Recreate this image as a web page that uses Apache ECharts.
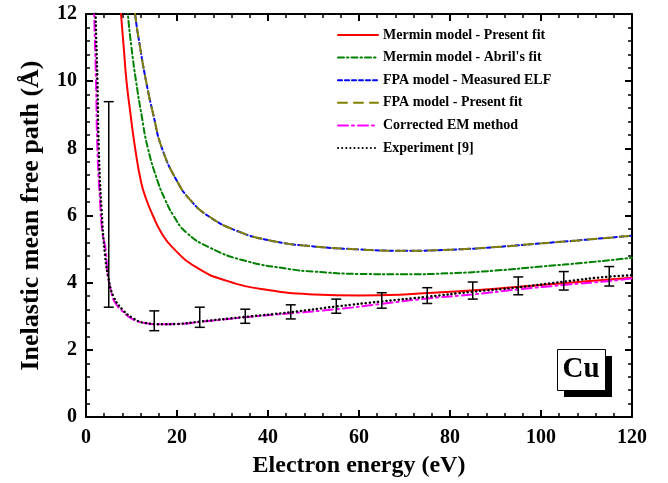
<!DOCTYPE html>
<html>
<head>
<meta charset="utf-8">
<script src="https://cdn.jsdelivr.net/npm/echarts@6/dist/echarts.min.js"></script>
<style>
  html, body { margin: 0; padding: 0; background: #fff; }
  #chart { width: 668px; height: 483px; }
</style>
</head>
<body>
<div id="chart"></div>
<script>
// curves: [energy (eV), IMFP (Å)]
const merminPresent = [[7.2, 13], [7.7, 12], [8.3, 11], [8.9, 10], [9.8, 9], [10.8, 8], [12.1, 7], [13.2, 6.5],
    [14.7, 6], [16.5, 5.5], [19, 5.05], [24.2, 4.46], [30.8, 4.06], [40, 3.78], [50, 3.65], [60, 3.62],
    [70, 3.65], [80, 3.73], [90, 3.82], [100, 3.93], [110, 4.04], [120, 4.15]];
const merminAbril = [[8.7, 13], [9.2, 12], [10, 11], [11, 10], [12.2, 9], [13.6, 8], [15.8, 7], [17.3, 6.5],
    [19.2, 6], [22, 5.5], [27.1, 5.05], [35, 4.65], [45, 4.4], [50, 4.33], [60, 4.26], [70, 4.25],
    [80, 4.28], [90, 4.36], [100, 4.48], [110, 4.6], [120, 4.74]];
const fpaMeasured = [[10.2, 13], [10.8, 12], [11.9, 11], [13.2, 10], [14.8, 9], [16.7, 8], [20.1, 7], [23, 6.45],
    [26.7, 6], [33, 5.55], [40.7, 5.25], [50, 5.08], [60, 4.99], [70, 4.95], [80, 4.98], [90, 5.06],
    [100, 5.17], [110, 5.28], [120, 5.4]];
const fpaPresent = [[10.2, 13], [10.8, 12], [11.9, 11], [13.2, 10], [14.8, 9], [16.7, 8], [20.1, 7], [23, 6.45],
    [26.7, 6], [33, 5.55], [40.7, 5.25], [50, 5.08], [60, 4.99], [70, 4.95], [80, 4.98], [90, 5.06],
    [100, 5.17], [110, 5.28], [120, 5.4]];
const correctedEM = [[1.7, 13], [1.8, 12], [2.2, 10], [2.5, 8], [3.1, 6.4], [3.6, 5.5], [4.3, 5], [4.8, 4.2],
    [5.5, 3.76], [6.2, 3.45], [7.8, 3.18], [10.4, 2.9], [13, 2.8], [16, 2.76], [20, 2.77], [25, 2.83],
    [35, 2.97], [45, 3.09], [55, 3.21], [65, 3.37], [75, 3.53], [85, 3.65], [95, 3.8], [105, 3.93],
    [115, 4.05], [120, 4.13]];
const experiment = [[2, 13], [2.1, 12], [2.5, 10], [2.8, 8], [3.4, 6.2], [4.2, 4.8], [5, 4.1], [6, 3.6],
    [8, 3.2], [10.5, 2.93], [13, 2.8], [17, 2.76], [20, 2.77], [25, 2.84], [35, 2.98], [45, 3.12],
    [55, 3.29], [65, 3.44], [75, 3.58], [85, 3.73], [95, 3.86], [105, 4.03], [115, 4.18], [120, 4.22]];
// error bars: [energy, low, high]
const errorBars = [[5, 3.27, 9.39], [15, 2.57, 3.16], [25, 2.67, 3.27], [35, 2.79, 3.21], [45, 2.92, 3.34],
    [55, 3.09, 3.51], [65, 3.24, 3.7], [75, 3.38, 3.85], [85, 3.51, 4.02], [95, 3.64, 4.17],
    [105, 3.78, 4.33], [115, 3.9, 4.48]];

const font = '"Liberation Serif", "Times New Roman", serif';

const chart = echarts.init(document.getElementById('chart'));

function lineSeries(name, data, color, type, width) {
    return {
        name: name,
        type: 'line',
        data: data,
        showSymbol: false,
        symbol: 'none',
        smooth: 0.5,
        clip: true,
        lineStyle: { color: color, width: width, type: type, cap: 'round' },
        itemStyle: { color: color }
    };
}

function axisCommon(labels, margin) {
    return {
        type: 'value',
        axisLine: { show: true, onZero: false, lineStyle: { color: '#000', width: 2 } },
        axisTick: { show: true, inside: true, length: 7, lineStyle: { color: '#000', width: 2 } },
        minorTick: { show: true, splitNumber: 5, length: 4, lineStyle: { color: '#000', width: 1.5 } },
        splitLine: { show: false },
        axisLabel: { show: labels, margin: margin, color: '#000', fontFamily: font, fontWeight: 'bold', fontSize: 20 }
    };
}

const option = {
    backgroundColor: '#fff',
    animation: false,
    grid: { left: 86, right: 36, top: 14, bottom: 66 },
    legend: {
        left: 337, top: 28, orient: 'vertical', padding: 0,
        itemWidth: 40, itemHeight: 14, itemGap: 8.6,
        itemStyle: { opacity: 0 },
        data: ['Mermin model - Present fit', "Mermin model - Abril's fit", 'FPA model - Measured ELF',
            'FPA model - Present fit', 'Corrected EM method', 'Experiment [9]'],
        textStyle: { fontFamily: font, fontWeight: 'bold', fontSize: 14, color: '#000' }
    },
    xAxis: [
        Object.assign(axisCommon(true, 11), {
            min: 0, max: 120, interval: 20,
            name: 'Electron energy (eV)', nameLocation: 'middle', nameGap: 37,
            nameTextStyle: { fontFamily: font, fontWeight: 'bold', fontSize: 24, color: '#000' }
        }),
        Object.assign(axisCommon(false, 8), { min: 0, max: 120, interval: 20, position: 'top' })
    ],
    yAxis: [
        Object.assign(axisCommon(true, 9), {
            min: 0, max: 12, interval: 2,
            name: 'Inelastic mean free path (Å)', nameLocation: 'middle', nameGap: 42,
            nameTextStyle: { fontFamily: font, fontWeight: 'bold', fontSize: 26, color: '#000' }
        }),
        Object.assign(axisCommon(false, 8), { min: 0, max: 12, interval: 2, position: 'right' })
    ],
    series: [
        lineSeries('Mermin model - Present fit', merminPresent, '#ff0000', 'solid', 2),
        lineSeries("Mermin model - Abril's fit", merminAbril, '#008000', [6, 3, 1.5, 3], 2),
        lineSeries('FPA model - Measured ELF', fpaMeasured, '#0000ff', [4, 3], 2),
        lineSeries('FPA model - Present fit', fpaPresent, '#808000', [9, 7], 2),
        lineSeries('Corrected EM method', correctedEM, '#ff00ff', [10, 4, 2, 4], 2),
        lineSeries('Experiment [9]', experiment, '#000000', [0.1, 4], 2.5),
        {
            type: 'custom',
            data: errorBars,
            renderItem: function (params, api) {
                const x = api.value(0);
                const lo = api.coord([x, api.value(1)]);
                const hi = api.coord([x, api.value(2)]);
                const w = 5;
                const style = { stroke: '#000', lineWidth: 1.5 };
                return {
                    type: 'group',
                    children: [
                        { type: 'line', shape: { x1: lo[0], y1: lo[1], x2: hi[0], y2: hi[1] }, style: style },
                        { type: 'line', shape: { x1: lo[0] - w, y1: lo[1], x2: lo[0] + w, y2: lo[1] }, style: style },
                        { type: 'line', shape: { x1: hi[0] - w, y1: hi[1], x2: hi[0] + w, y2: hi[1] }, style: style }
                    ]
                };
            },
            z: 5
        }
    ],
    graphic: [
        { type: 'rect', left: 564, top: 356, shape: { width: 48, height: 41 }, style: { fill: '#000' } },
        { type: 'rect', left: 557, top: 349, shape: { width: 48, height: 41 }, style: { fill: '#fff', stroke: '#000', lineWidth: 1 } },
        { type: 'text', x: 581, y: 370, style: { text: 'Cu', fontFamily: font, fontWeight: 'bold', fontSize: 29, fill: '#000', align: 'center', verticalAlign: 'middle' } }
    ]
};

chart.setOption(option);
window.addEventListener('resize', () => chart.resize());
</script>
</body>
</html>
